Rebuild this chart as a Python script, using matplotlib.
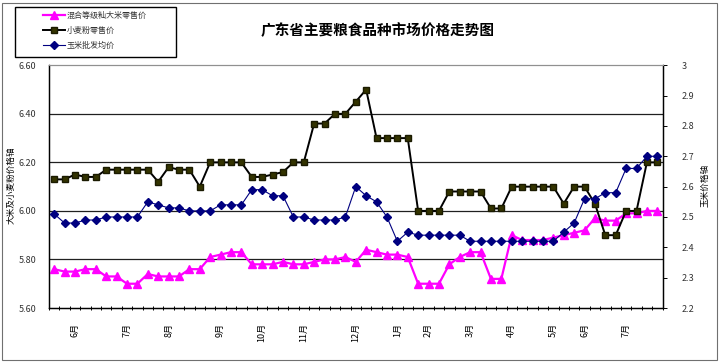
import numpy as np
import matplotlib
matplotlib.use("Agg")
import matplotlib.pyplot as plt
from matplotlib.patches import Rectangle
from matplotlib.ticker import FormatStrFormatter, FuncFormatter

plt.rcParams['font.family'] = ['Noto Sans CJK SC', 'DejaVu Sans']

TITLE = "广东省主要粮食品种市场价格走势图"
LEFT_LABEL = "大米及小麦粉价格轴"
RIGHT_LABEL = "玉米价格轴"
SERIES_NAMES = ["混合等级籼大米零售价", "小麦粉零售价", "玉米批发均价"]

# weekly prices, 59 observations
rice = [5.76, 5.75, 5.75, 5.76, 5.76, 5.73, 5.73, 5.70, 5.70, 5.74,
        5.73, 5.73, 5.73, 5.76, 5.76, 5.81, 5.82, 5.83, 5.83, 5.78,
        5.78, 5.78, 5.79, 5.78, 5.78, 5.79, 5.80, 5.80, 5.81, 5.79,
        5.84, 5.83, 5.82, 5.82, 5.81, 5.70, 5.70, 5.70, 5.78, 5.81,
        5.83, 5.83, 5.72, 5.72, 5.90, 5.88, 5.88, 5.88, 5.89, 5.90,
        5.91, 5.92, 5.97, 5.96, 5.96, 5.99, 5.99, 6.00, 6.00]
wheat = [6.13, 6.13, 6.15, 6.14, 6.14, 6.17, 6.17, 6.17, 6.17, 6.17,
         6.12, 6.18, 6.17, 6.17, 6.10, 6.20, 6.20, 6.20, 6.20, 6.14,
         6.14, 6.15, 6.16, 6.20, 6.20, 6.36, 6.36, 6.40, 6.40, 6.45,
         6.50, 6.30, 6.30, 6.30, 6.30, 6.00, 6.00, 6.00, 6.08, 6.08,
         6.08, 6.08, 6.01, 6.01, 6.10, 6.10, 6.10, 6.10, 6.10, 6.03,
         6.10, 6.10, 6.03, 5.90, 5.90, 6.00, 6.00, 6.20, 6.20]
corn = [2.51, 2.48, 2.48, 2.49, 2.49, 2.50, 2.50, 2.50, 2.50, 2.55,
        2.54, 2.53, 2.53, 2.52, 2.52, 2.52, 2.54, 2.54, 2.54, 2.59,
        2.59, 2.57, 2.57, 2.50, 2.50, 2.49, 2.49, 2.49, 2.50, 2.60,
        2.57, 2.55, 2.50, 2.42, 2.45, 2.44, 2.44, 2.44, 2.44, 2.44,
        2.42, 2.42, 2.42, 2.42, 2.42, 2.42, 2.42, 2.42, 2.42, 2.45,
        2.48, 2.56, 2.56, 2.58, 2.58, 2.66, 2.66, 2.70, 2.70]

month_pos = [2, 7, 11, 16, 20, 24, 29, 33, 36, 40, 44, 48, 51, 55]
month_labels = ["6月", "7月", "8月", "9月", "10月", "11月", "12月",
                "1月", "2月", "3月", "4月", "5月", "6月", "7月"]

x = np.arange(len(rice))

fig = plt.figure(figsize=(7.2, 3.62), dpi=100)
ax = fig.add_axes([49 / 720, 1 - 308 / 362, (662.5 - 49) / 720, (308 - 65.3) / 362])
ax2 = ax.twinx()

for yv in [5.8, 6.0, 6.2, 6.4]:
    ax.axhline(yv, color="#202020", lw=0.9, zorder=0)

l1, = ax.plot(x, rice, color="#ff00ff", lw=1.6, marker="^", markersize=5.5,
              markerfacecolor="#ff00ff", markeredgecolor="#ff00ff", zorder=3)
l2, = ax.plot(x, wheat, color="black", lw=1.4, marker="s", markersize=4.5,
              markerfacecolor="#333300", markeredgecolor="#1a1a00", zorder=3)
l3, = ax2.plot(x, corn, color="#000080", lw=0.8, marker="D", markersize=4,
               markerfacecolor="#000080", markeredgecolor="#000080", zorder=3)

ax.set_xlim(-0.5, len(rice) - 0.5)
ax.set_ylim(5.6, 6.6)
ax.set_yticks(np.arange(5.6, 6.61, 0.2))
ax.yaxis.set_major_formatter(FormatStrFormatter("%.2f"))
ax2.set_ylim(2.2, 3.0)
ax2.set_yticks(np.arange(2.2, 3.01, 0.1))
ax2.yaxis.set_major_formatter(FuncFormatter(lambda v, p: f"{v:g}"))

ax.set_xticks(month_pos)
ax.set_xticklabels(month_labels, rotation=90, fontsize=6.5)
ax.tick_params(axis="x", which="major", length=0, pad=11)
ax.set_xticks(np.arange(-0.5, len(rice), 1.0), minor=True)
ax.tick_params(axis="x", which="minor", length=3, direction="inout", width=0.7)
ax.tick_params(axis="y", length=0, labelsize=6.5, pad=9, labelcolor="#333333")
ax2.tick_params(axis="y", length=3, width=0.7, labelsize=6.5, pad=11, labelcolor="#333333")

for a in (ax, ax2):
    a.spines["top"].set_color("#909090")
    for s in ("left", "right", "bottom"):
        a.spines[s].set_color("black")
        a.spines[s].set_linewidth(0.9)

fig.text(11 / 720, 1 - 185 / 362, LEFT_LABEL, rotation=90, fontsize=6.2,
         ha="center", va="center")
fig.text(705 / 720, 1 - 185 / 362, RIGHT_LABEL, rotation=90, fontsize=6.2,
         ha="center", va="center")
fig.text(378 / 720, 1 - 30 / 362, TITLE, fontsize=10.5, fontweight="bold",
         ha="center", va="center")

# legend box
fig.patches.append(Rectangle((15 / 720, 1 - 57 / 362), 161 / 720, 50 / 362,
                             transform=fig.transFigure, fill=False,
                             edgecolor="black", lw=1.0))
leg = fig.legend([l1, l2, l3], SERIES_NAMES, loc="upper left",
                 bbox_to_anchor=(43 / 720, 1 - 11 / 362), frameon=False,
                 fontsize=5.8, handlelength=2.7, handletextpad=0.2,
                 borderpad=0, borderaxespad=0, labelspacing=0.75)
for t in leg.get_texts():
    t.set_color("#333333")

# outer chart border
fig.patches.append(Rectangle((2 / 720, 2 / 362), 715 / 720, 357 / 362,
                             transform=fig.transFigure, fill=False,
                             edgecolor="#707070", lw=0.8))

fig.savefig("out.png", dpi=100)
